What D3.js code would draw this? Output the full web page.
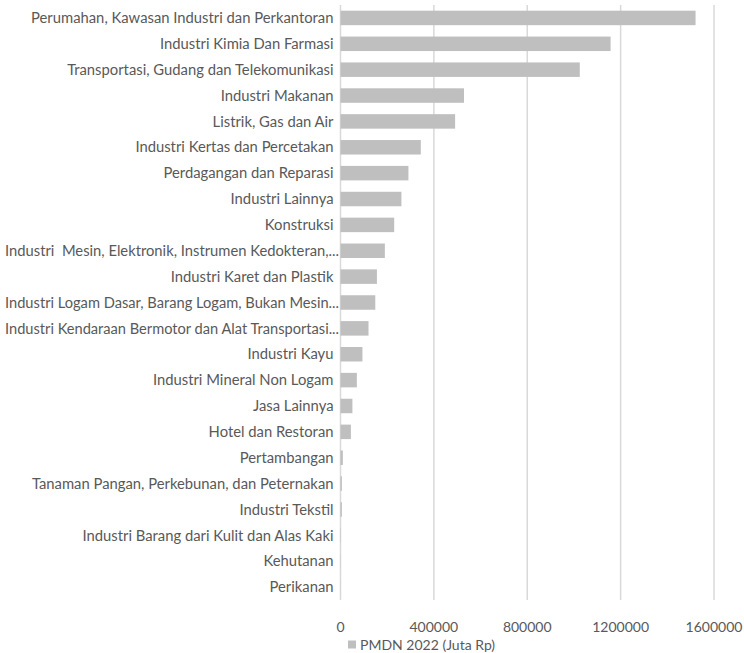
<!DOCTYPE html>
<html>
<head>
<meta charset="utf-8">
<script src="https://cdn.jsdelivr.net/npm/d3@7"></script>
<style>
  html, body { margin: 0; padding: 0; background: #fff; }
  svg text { font-family: "Lato", "Liberation Sans", sans-serif; fill: #595959; }
</style>
</head>
<body>
<svg id="chart" width="744" height="653"></svg>
<script>
// PMDN 2022 investment by sector (Juta Rp)
const categories = [
  "Perumahan, Kawasan Industri dan Perkantoran",
  "Industri Kimia Dan Farmasi",
  "Transportasi, Gudang dan Telekomunikasi",
  "Industri Makanan",
  "Listrik, Gas dan Air",
  "Industri Kertas dan Percetakan",
  "Perdagangan dan Reparasi",
  "Industri Lainnya",
  "Konstruksi",
  "Industri  Mesin, Elektronik, Instrumen Kedokteran,...",
  "Industri Karet dan Plastik",
  "Industri Logam Dasar, Barang Logam, Bukan Mesin...",
  "Industri Kendaraan Bermotor dan Alat Transportasi...",
  "Industri Kayu",
  "Industri Mineral Non Logam",
  "Jasa Lainnya",
  "Hotel dan Restoran",
  "Pertambangan",
  "Tanaman Pangan, Perkebunan, dan Peternakan",
  "Industri Tekstil",
  "Industri Barang dari Kulit dan Alas Kaki",
  "Kehutanan",
  "Perikanan"
];
const values = [
  1521000, 1157000, 1025000, 529000, 491000, 344000, 291000, 261000, 230000,
  190000, 156000, 149000, 120000, 94000, 70000, 51000, 44500, 10000, 6000,
  6000, 1500, 800, 500
];
const xTicks = [0, 400000, 800000, 1200000, 1600000];
const seriesName = "PMDN 2022 (Juta Rp)";

const svg = d3.select("#chart");
const margin = { left: 340.5, top: 5, bottom: 600 };

const x = d3.scaleLinear().domain([0, 1600000]).range([margin.left, 714]);
const y = d3.scaleBand().domain(categories).range([margin.top, margin.bottom]).paddingInner(0.44).paddingOuter(0.22);

// vertical gridlines
svg.append("g").selectAll("line").data(xTicks).join("line")
  .attr("x1", d => x(d)).attr("x2", d => x(d))
  .attr("y1", margin.top).attr("y2", margin.bottom)
  .attr("stroke", "#d9d9d9").attr("stroke-width", 1.5);

// bars
svg.append("g").selectAll("rect").data(categories).join("rect")
  .attr("x", x(0))
  .attr("y", d => y(d))
  .attr("width", (d, i) => Math.max(0, x(values[i]) - x(0)))
  .attr("height", y.bandwidth())
  .attr("fill", "#bfbfbf");

// category labels; truncated ones run right up to the axis
const labels = svg.append("g").selectAll("text").data(categories).join("text")
  .attr("x", d => d.endsWith("...") ? x(0) - 1.5 : x(0) - 7)
  .attr("y", d => y(d) + y.bandwidth() / 2)
  .attr("dy", "0.35em")
  .attr("text-anchor", "end")
  .attr("font-size", 14.8)
  .style("white-space", "pre")
  .text(d => d);

// keep every label inside the left edge
labels.each(function () {
  const el = d3.select(this);
  const right = +el.attr("x");
  const w = this.getComputedTextLength();
  const avail = right - 5;
  if (w > avail) {
    el.attr("textLength", avail).attr("lengthAdjust", "spacingAndGlyphs");
  }
});

// x axis tick labels
svg.append("g").selectAll("text").data(xTicks).join("text")
  .attr("x", d => x(d))
  .attr("y", 627)
  .attr("dy", "0.35em")
  .attr("text-anchor", "middle")
  .attr("font-size", 14)
  .text(d => d3.format("d")(d));

// legend
const lg = svg.append("g");
lg.append("rect").attr("x", 348).attr("y", 640.5).attr("width", 8).attr("height", 8).attr("fill", "#bfbfbf");
lg.append("text").attr("x", 360).attr("y", 645).attr("dy", "0.35em")
  .attr("font-size", 14).text(seriesName);
</script>
</body>
</html>
